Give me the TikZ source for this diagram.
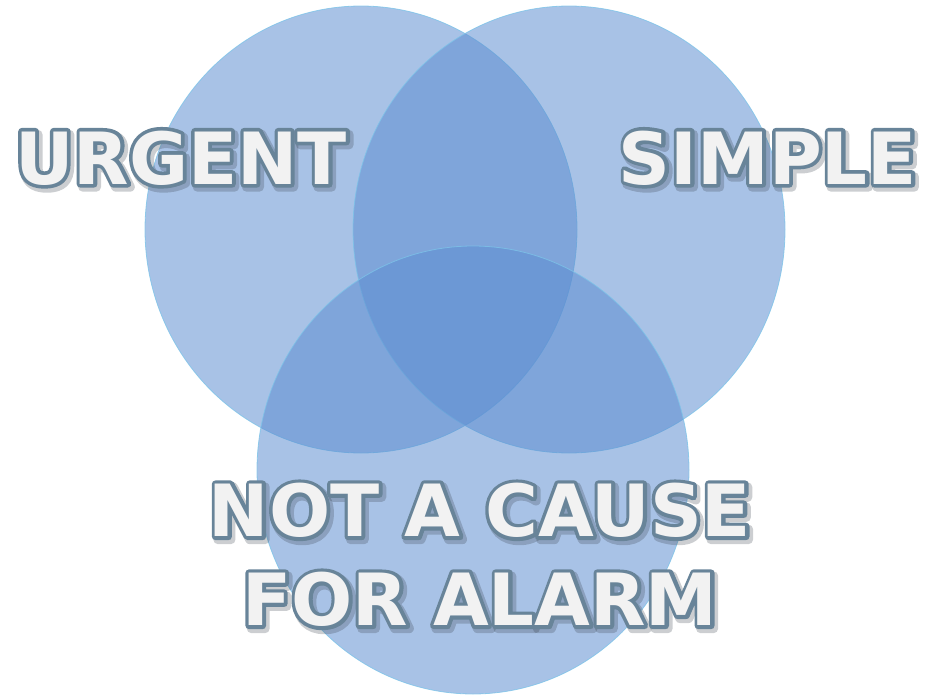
\documentclass[tikz,border=0pt]{standalone}
\usepackage{fontspec}
\setmainfont{DejaVu Sans}
\newfontfamily\lblfill{DejaVu Sans}
\newfontfamily\lblout{DejaVu Sans}[BoldFeatures={FakeBold=10}]
\newfontfamily\lblshadow{DejaVu Sans}[BoldFeatures={FakeBold=13}]
\definecolor{circ}{RGB}{91,140,208}
\definecolor{circedge}{RGB}{125,195,232}
\definecolor{txtfill}{RGB}{242,242,242}
\definecolor{txtline}{RGB}{104,132,153}
\definecolor{shade}{RGB}{50,60,70}
\newcommand\roundjoin{\special{pdf:literal direct 1 j 1 J}}
\tikzset{
  vennset/.style={fill=circ, fill opacity=0.53, draw=circedge, draw opacity=0.8, line width=0.8pt},
  lbl/.style={font=\fontsize{72}{80}\selectfont\bfseries, inner sep=0pt, anchor=base},
}
\newcommand\vennlabel[4]{%
  \begin{scope}[opacity=0.25]
    \node[lbl, text=shade] (#1-s) at (#2+2.5,#3+3) {\roundjoin\lblshadow #4};
  \end{scope}
  \node[lbl, text=txtline] (#1-o) at (#2,#3) {\roundjoin\lblout #4};
  \node[lbl, text=txtfill] (#1) at (#2,#3) {\lblfill #4};
}
\begin{document}
\begin{tikzpicture}[x=1pt,y=-1pt]
  \useasboundingbox (0,0) rectangle (934,696);
  \draw[vennset] (361,229.5) ellipse [x radius=216, y radius=223.5];
  \draw[vennset] (569,229.5) ellipse [x radius=216, y radius=223.5];
  \draw[vennset] (473,470) ellipse [x radius=216, y radius=224];
  \vennlabel{urgent}{181}{184}{URGENT}
  \vennlabel{simple}{768}{184}{SIMPLE}
  \vennlabel{notcause}{480}{536.5}{NOT A CAUSE}
  \vennlabel{foralarm}{480}{625.5}{FOR ALARM}
\end{tikzpicture}
\end{document}
